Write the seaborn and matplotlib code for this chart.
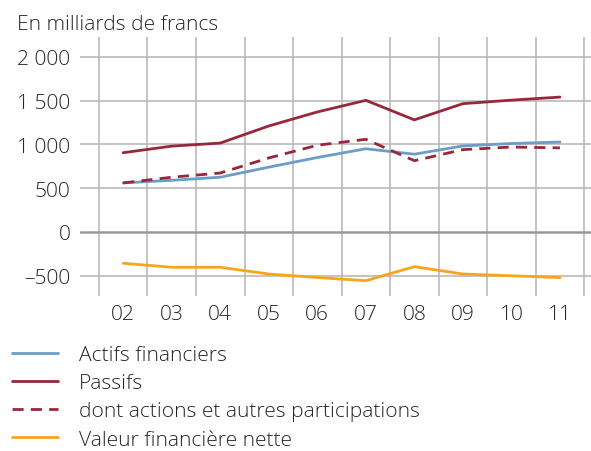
import numpy as np
import pandas as pd
import matplotlib
matplotlib.use("Agg")
import matplotlib.pyplot as plt
import seaborn as sns

# Data (milliards de francs)
years = ["02", "03", "04", "05", "06", "07", "08", "09", "10", "11"]
actifs = [560, 590, 625, 740, 850, 950, 888, 982, 1010, 1027]
passifs = [905, 980, 1015, 1210, 1370, 1503, 1280, 1465, 1505, 1540]
actions = [560, 625, 673, 845, 990, 1058, 814, 940, 970, 960]
valeur = [-357, -403, -403, -480, -520, -556, -396, -480, -500, -521]

labels = ["Actifs financiers", "Passifs",
          "dont actions et autres participations", "Valeur financière nette"]
colors = ["#6b9dc6", "#97283a", "#97283a", "#f8a51c"]
styles = ["-", "-", "--", "-"]
yticks = [-500, 0, 500, 1000, 1500, 2000]

sns.set_theme(style="white")
plt.rcParams["font.family"] = ["Open Sans", "DejaVu Sans"]
plt.rcParams["font.weight"] = "light"
text_col = "#262626"
fs = 15.1

fig = plt.figure(figsize=(5.91, 4.52), dpi=100)
ax = fig.add_axes([80 / 591, 1 - 297 / 452, 511 / 591, (297 - 38) / 452])

df = pd.DataFrame({"x": np.arange(len(years))})
handles = []
for vals, lab, col, ls in zip([actifs, passifs, actions, valeur], labels, colors, styles):
    df["y"] = vals
    sns.lineplot(data=df, x="x", y="y", ax=ax, color=col, linewidth=2.0,
                 linestyle=ls, label=lab, legend=False)
    h = ax.lines[-1]
    if ls == "--":
        h.set_dashes([4, 2.6])
    handles.append(h)

# grid: vertical lines between categories, horizontal at ticks
for b in np.arange(-0.5, len(years), 1.0):
    ax.axvline(b, color="#b4b4b4", lw=1.1, zorder=0)
for t in yticks:
    ax.axhline(t, color="#9a9a9a" if t == 0 else "#b4b4b4",
               lw=1.8 if t == 0 else 1.1, zorder=0)

ax.set_xlim(-0.89, 9.64)
ax.set_ylim(-731, 2226)
ax.set_xticks(range(len(years)))
ax.set_xticklabels(years)
ax.set_yticks(yticks)
ax.set_yticklabels([f"{t:,}".replace(",", " ").replace("-", "\u2013") for t in yticks])
ax.tick_params(axis="both", length=0, labelsize=fs, colors=text_col)
ax.tick_params(axis="x", pad=6)
ax.tick_params(axis="y", pad=7)
ax.set_xlabel("")
ax.set_ylabel("")
for s in ax.spines.values():
    s.set_visible(False)

fig.text(17 / 591, 1 - 30 / 452, "En milliards de francs", fontsize=fs,
         color=text_col, va="baseline", ha="left")

leg = fig.legend(handles=handles, labels=labels, loc="upper left",
                 bbox_to_anchor=(12 / 591, 1 - 346 / 452), frameon=False,
                 fontsize=fs, handlelength=2.2, handletextpad=0.98,
                 labelspacing=0.39, borderaxespad=0, borderpad=0)
for t in leg.get_texts():
    t.set_color(text_col)

fig.savefig("out.png", dpi=100)
